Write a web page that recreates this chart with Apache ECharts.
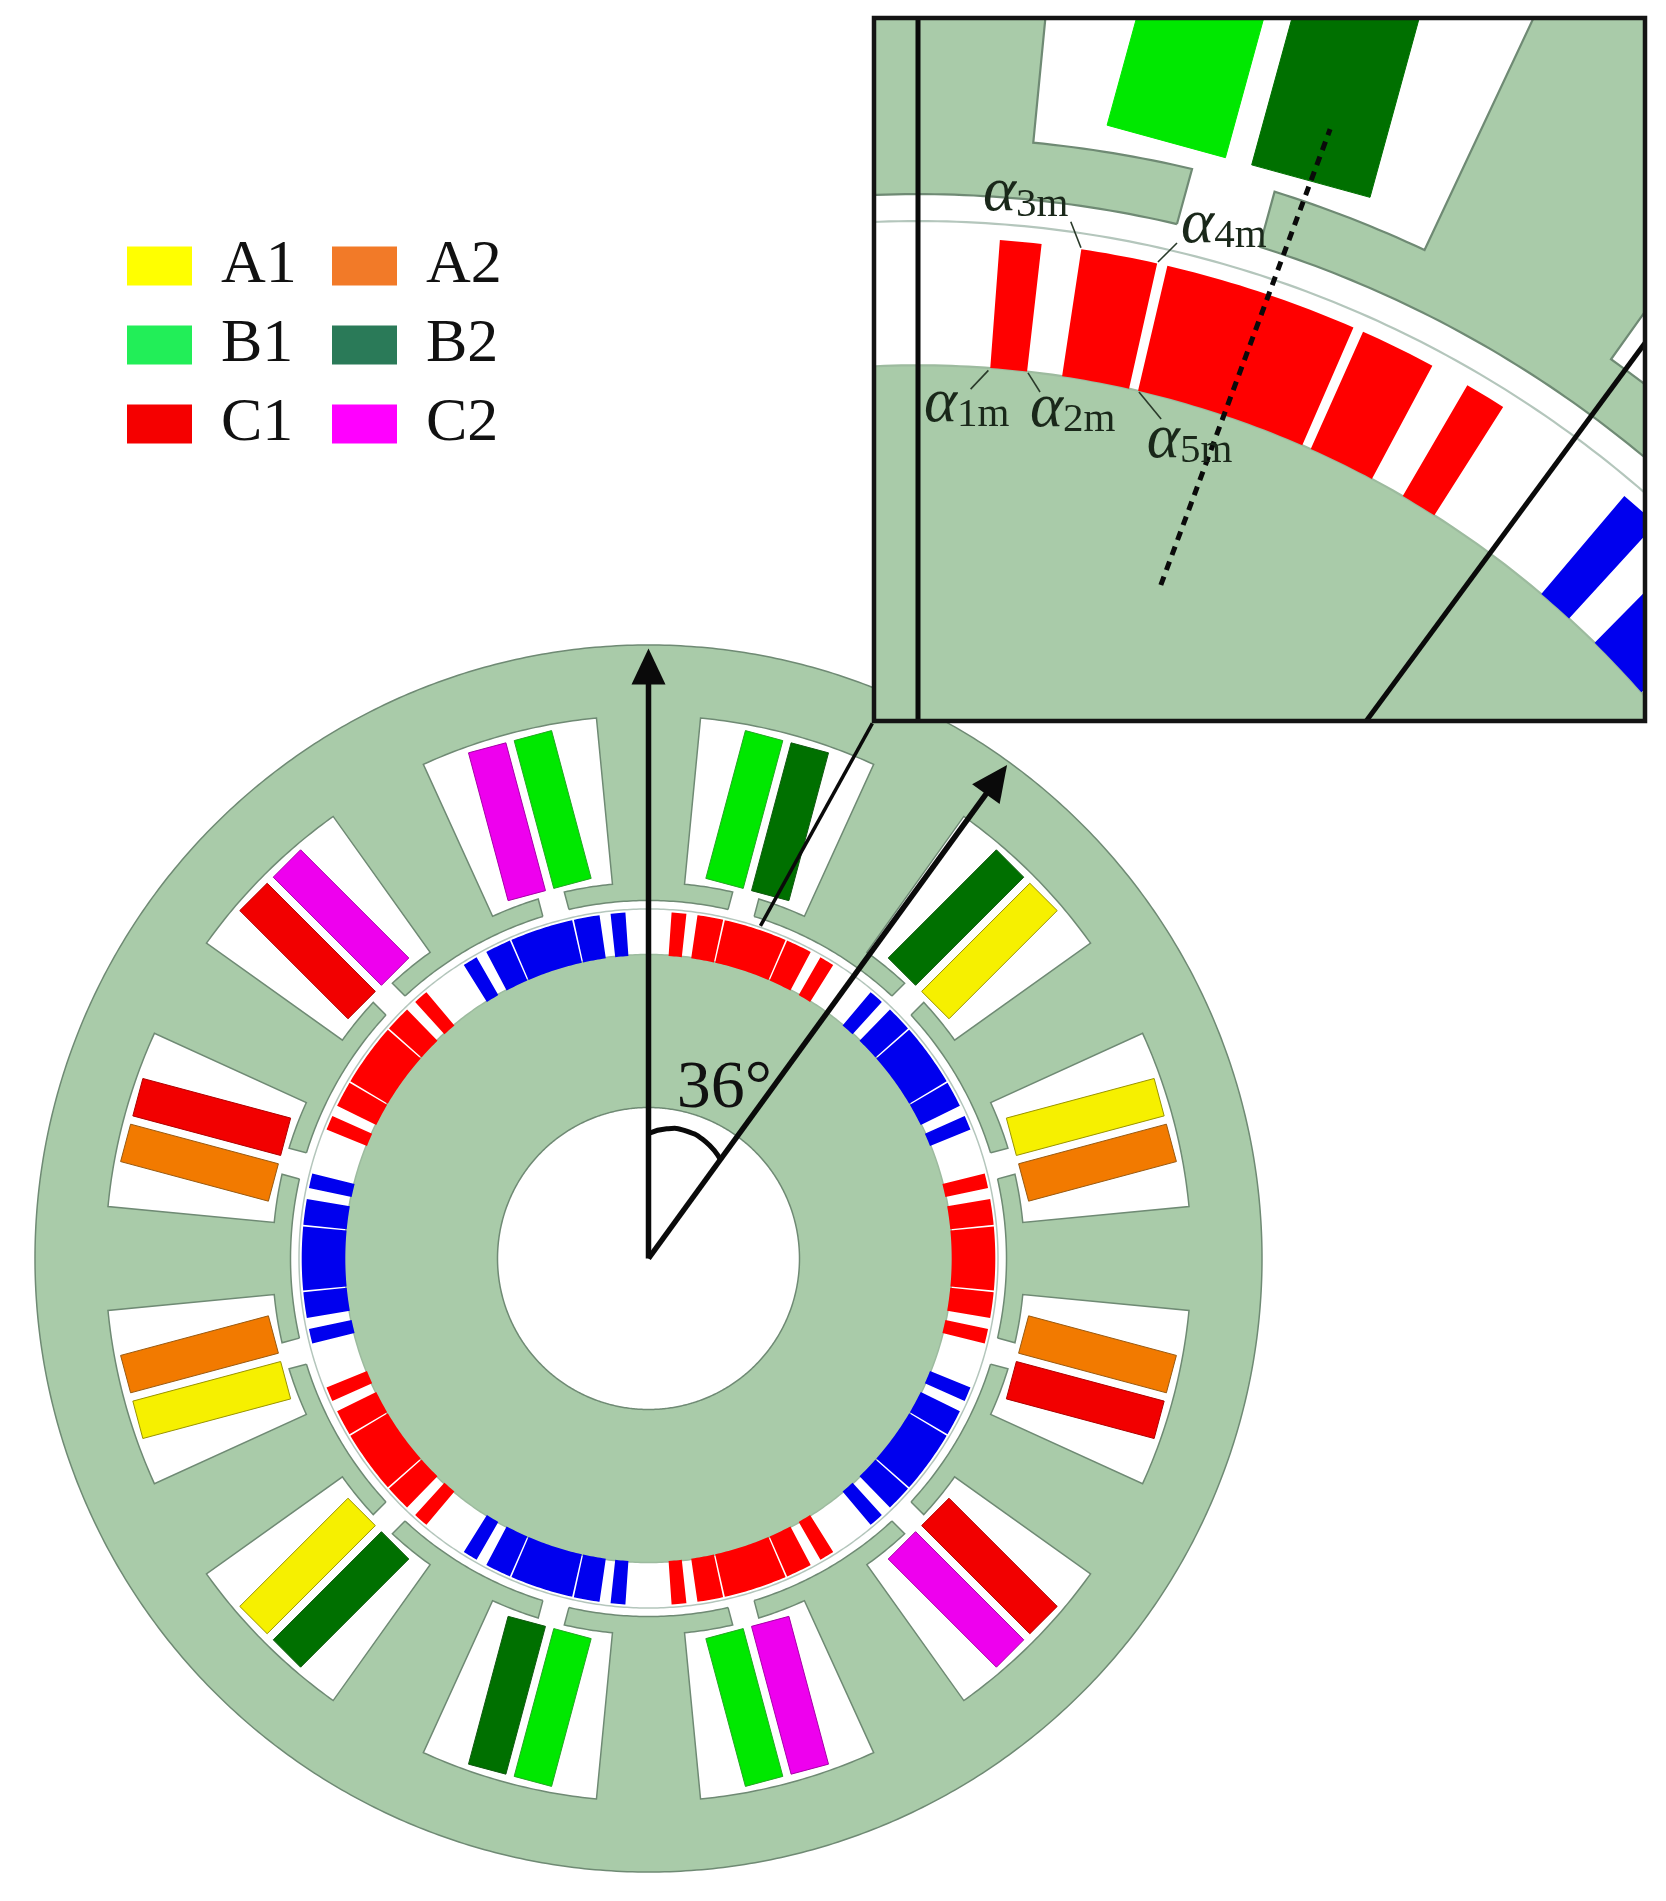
<!DOCTYPE html>
<html>
<head>
<meta charset="utf-8">
<title>motor</title>
<style>html,body{margin:0;background:#fff}#main{width:1666px;height:1901px}</style>
<script src="https://cdn.jsdelivr.net/npm/echarts@6/dist/echarts.min.js"></script>
</head>
<body>
<div id="main"></div>
<script>
// radii of the machine, in pixels of the main view
const statorRadius = 613.5, slotOuterRadius = 543, slotInnerRadius = 376, boreRadius = 358;
const sleeveRadius = 349.5, yokeRadius = 304, shaftRadius = 151;
const openingHalfWidth = 13.5;

// stator: 12 slots, each with two coil sides
const slotAngles = [15, 45, 75, 105, 135, 165, 195, 225, 255, 285, 315, 345];
const leadingPhase = ['B1', 'B2', 'A1', 'A2', 'C1', 'C2', 'B1', 'B2', 'A1', 'A2', 'C1', 'C2'];
const trailingPhase = ['B2', 'A1', 'A2', 'C1', 'C2', 'B1', 'B2', 'A1', 'A2', 'C1', 'C2', 'B1'];
const coilSpan = [4.3, 43], coilRadial = [382, 535];

// rotor: 10 poles, each made of 5 magnet segments
const poleAngles = [18, 54, 90, 126, 162, 198, 234, 270, 306, 342];
const poleColors = ['#ff0000', '#0000ee'];
const magnetEdges = [[-14.05, -11.85], [-9.75, -5.7], [-5.15, 5.15], [5.7, 9.75], [11.85, 14.05]];

const phaseNames = ['A1', 'A2', 'B1', 'B2', 'C1', 'C2'];
const phaseColors = { A1: '#f6f000', A2: '#f27a00', B1: '#00e800', B2: '#007000', C1: '#f20000', C2: '#ee00ee' };
const phaseEdges = { A1: '#9a9400', A2: '#9a5a10', B1: '#22a822', B2: '#105a10', C1: '#b00000', C2: '#a800a8' };
const legendColors = { A1: '#ffff00', A2: '#f27a28', B1: '#22ee58', B2: '#2a7a58', C1: '#f50000', C2: '#ff00ff' };

// annotations of the main view: [angle, radius]
const arrowAngles = [0, 36], arrowTip = 610;
const angleArc = [[0, 125], [8, 131], [16, 133], [26, 130], [36.5, 122]];
const angleLabel = { text: '36°', at: [24.1, 186] };
const zoomLeader = [[18.6, 351], [22.7, 580]];

// annotations of the enlarged view, in machine units
const insetAxisAngles = [0, 36.4];
const insetTurn = 0.35;
const poleAxis = [[76.6, 234.7], [130, 378.5]];
const alphaLabels = ['1m', '2m', '3m', '4m', '5m'];
const alphaAnchors = [[1.9, 291.7], [35.3, 290.1], [20.5, 358.1], [83, 348.2], [72.2, 280.3]];
const alphaLeaders = [
  [[22.2, 302.4], [16.6, 296.5]],
  [[34.7, 301.6], [38.5, 295.6]],
  [[48.2, 349.3], [51.4, 341.1]],
  [[81.7, 342.6], [75.7, 336.6]],
  [[69.7, 295.6], [76.7, 287.1]]
];

const W = 1666, H = 1901;
const cx = 648.5, cy = 1258.5;
const insetBox = { left: 874, top: 18, width: 771, height: 703 };
const insetZoom = 3.17, insetCx = 918, insetCy = 1329;
const insetX = [(insetBox.left - insetCx) / insetZoom, (insetBox.left + insetBox.width - insetCx) / insetZoom];
const insetY = [(insetCy - insetBox.top - insetBox.height) / insetZoom, (insetCy - insetBox.top) / insetZoom];

const serif = '"Liberation Serif", "Times New Roman", serif';
const steelFill = '#a9cba9', steelEdge = '#6f8a74';

function rad(d) { return d * Math.PI / 180; }
function polar(angle, r) { return [r * Math.sin(rad(angle)), r * Math.cos(rad(angle))]; }
function local(angle, u, v) {
  const a = rad(angle);
  return [u * Math.cos(a) + v * Math.sin(a), -u * Math.sin(a) + v * Math.cos(a)];
}
function arc(from, to, r) {
  const pts = [], n = Math.max(2, Math.ceil(Math.abs(to - from) * 2));
  for (let i = 0; i <= n; i++) pts.push(polar(from + (to - from) * i / n, r));
  return pts;
}
function toPx(api, pts) { return pts.map(p => api.coord(p)); }

function custom(view, extra) {
  return Object.assign({
    type: 'custom', xAxisIndex: view.index, yAxisIndex: view.index,
    clip: true, silent: true, animation: false, z: view.z, legendHoverLink: false
  }, extra);
}

function disc(view, radius, fill, stroke) {
  return custom(view, {
    data: [[radius]],
    renderItem: (p, api) => ({
      type: 'polygon',
      shape: { points: toPx(api, arc(0, 360, api.value(0))) },
      style: { fill: fill, stroke: stroke, lineWidth: view.edge }
    })
  });
}

function slotOutline(angle, half) {
  const tip = Math.asin(openingHalfWidth / slotInnerRadius) * 180 / Math.PI;
  const inner = Math.sqrt(slotInnerRadius * slotInnerRadius - openingHalfWidth * openingHalfWidth);
  let pts = [local(angle, -openingHalfWidth, boreRadius - 3), local(angle, -openingHalfWidth, inner)];
  pts = pts.concat(arc(angle - tip, angle - half, slotInnerRadius));
  pts = pts.concat(arc(angle - half, angle + half, slotOuterRadius));
  pts = pts.concat(arc(angle + half, angle + tip, slotInnerRadius));
  pts.push(local(angle, openingHalfWidth, inner), local(angle, openingHalfWidth, boreRadius - 3));
  return pts;
}

function coilRows(phase) {
  const rows = [];
  slotAngles.forEach((a, i) => {
    if (leadingPhase[i] === phase) rows.push([a, -1]);
    if (trailingPhase[i] === phase) rows.push([a, 1]);
  });
  return rows;
}

function motorSeries(view) {
  const turn = view.turn;
  const list = [];
  list.push(disc(view, statorRadius, steelFill, steelEdge));
  list.push(custom(view, {
    data: slotAngles.map(a => [a]),
    renderItem: (p, api) => ({
      type: 'polygon',
      shape: { points: toPx(api, slotOutline(api.value(0) + turn, view.slotHalf)) },
      style: { fill: '#fff', stroke: steelEdge, lineWidth: view.edge }
    })
  }));
  list.push(disc(view, boreRadius, '#fff', null));
  // tooth tips facing the air gap
  list.push(custom(view, {
    data: slotAngles.map(a => [a]),
    renderItem: (p, api) => {
      const tip = Math.asin(openingHalfWidth / boreRadius) * 180 / Math.PI;
      const a = api.value(0) + turn;
      return {
        type: 'polyline',
        shape: { points: toPx(api, arc(a + tip, a + 30 - tip, boreRadius)) },
        style: { fill: 'none', stroke: steelEdge, lineWidth: view.edge }
      };
    }
  }));
  list.push(disc(view, sleeveRadius, '#fff', '#b4c6bc'));
  list.push(disc(view, yokeRadius, steelFill, '#9dbb9f'));
  list.push(disc(view, shaftRadius, '#fff', steelEdge));

  // magnets
  const magnetRows = [];
  poleAngles.forEach((a, i) => magnetEdges.forEach(e => magnetRows.push([a, e[0], e[1], i % 2])));
  list.push(custom(view, {
    data: magnetRows,
    renderItem: (p, api) => {
      const a = api.value(0) + turn;
      const pts = arc(a + api.value(1), a + api.value(2), view.magnetOuter)
        .concat(arc(a + api.value(2), a + api.value(1), yokeRadius));
      const color = poleColors[api.value(3)];
      return {
        type: 'polygon',
        shape: { points: toPx(api, pts) },
        style: { fill: color, stroke: color, lineWidth: view.magnetEdge }
      };
    }
  }));

  // coils, one series per phase so the legend can name them
  phaseNames.forEach(ph => {
    list.push(custom(view, {
      name: ph,
      itemStyle: { color: phaseColors[ph] },
      data: coilRows(ph),
      renderItem: (p, api) => {
        const a = api.value(0) + turn, side = api.value(1);
        const pts = [
          local(a, side * coilSpan[0], coilRadial[0]), local(a, side * coilSpan[1], coilRadial[0]),
          local(a, side * coilSpan[1], coilRadial[1]), local(a, side * coilSpan[0], coilRadial[1])
        ];
        return {
          type: 'polygon',
          shape: { points: toPx(api, pts) },
          style: { fill: phaseColors[ph], stroke: view.index === 0 ? phaseEdges[ph] : phaseColors[ph], lineWidth: 1 }
        };
      }
    }));
  });
  return list;
}

function lineItem(api, pts, width, dash, smooth) {
  return {
    type: 'polyline',
    shape: { points: toPx(api, pts), smooth: smooth || 0 },
    style: { fill: 'none', stroke: '#0a0a0a', lineWidth: width, lineDash: dash || null, lineCap: 'butt' }
  };
}

const mainView = { index: 0, z: 2, turn: 0, edge: 1.5, magnetEdge: 1.6, magnetOuter: 346, slotHalf: 9.5 };
const insetView = { index: 1, z: 3, turn: insetTurn, edge: 2.2, magnetEdge: 0, magnetOuter: 344.5, slotHalf: 9.8 };

// annotations on the main view
const mainMarks = custom(mainView, {
  data: arrowAngles.map(a => [a]),
  renderItem: (p, api) => {
    const a = api.value(0);
    const shaftEnd = polar(a, arrowTip - 30);
    const head = [polar(a, arrowTip), local(a, -17, arrowTip - 36), local(a, 17, arrowTip - 36)];
    return {
      type: 'group',
      children: [
        lineItem(api, [[0, 0], shaftEnd], 5.5),
        { type: 'polygon', shape: { points: toPx(api, head) }, style: { fill: '#0a0a0a' } }
      ]
    };
  }
});
const mainArc = custom(mainView, {
  data: angleArc,
  renderItem: (p, api) => (p.dataIndex === 0
    ? lineItem(api, angleArc.map(q => polar(q[0], q[1])), 5, null, 0.5)
    : null)
});
const mainLeader = custom(mainView, {
  data: [[0]],
  renderItem: (p, api) => lineItem(api, zoomLeader.map(q => polar(q[0], q[1])), 3.5)
});
const mainLabel = custom(mainView, {
  data: [angleLabel.at],
  renderItem: (p, api) => {
    const xy = api.coord(polar(api.value(0), api.value(1)));
    return {
      type: 'text',
      style: {
        x: xy[0], y: xy[1], text: angleLabel.text, fill: '#111',
        fontSize: 68, fontFamily: serif, align: 'center', verticalAlign: 'middle'
      }
    };
  }
});

// annotations on the enlarged view
const insetLines = custom(insetView, {
  data: insetAxisAngles.map(a => [a]),
  renderItem: (p, api) => lineItem(api, [[0, 0], polar(api.value(0), 700)], 5)
});
const insetPoleAxis = custom(insetView, {
  data: [[0]],
  renderItem: (p, api) => lineItem(api, poleAxis, 5, [9, 7])
});
const insetLeaders = custom(insetView, {
  data: alphaLeaders.map((q, i) => [i]),
  renderItem: (p, api) => {
    const it = lineItem(api, alphaLeaders[api.value(0)], 1.6);
    it.style.stroke = '#2a3a2a';
    return it;
  }
});
const insetLabels = custom(insetView, {
  data: alphaLabels.map((s, i) => [i]),
  renderItem: (p, api) => {
    const i = api.value(0);
    const xy = api.coord(alphaAnchors[i]);
    return {
      type: 'text',
      style: {
        x: xy[0], y: xy[1], text: '{a|α}{s|' + alphaLabels[i] + '}',
        align: 'left', verticalAlign: 'middle', fill: '#1a281a',
        rich: {
          a: { fontSize: 63, fontFamily: serif, fontStyle: 'italic', fill: '#1a281a' },
          s: { fontSize: 41, fontFamily: serif, fill: '#1a281a', padding: [22, 0, 0, 0] }
        }
      }
    };
  }
});
const insetFrame = custom(insetView, {
  z: 4, clip: false,
  data: [[0]],
  renderItem: (p, api) => {
    const c = [
      [insetX[0], insetY[1]], [insetX[1], insetY[1]],
      [insetX[1], insetY[0]], [insetX[0], insetY[0]], [insetX[0], insetY[1]]
    ];
    const it = lineItem(api, c, 4.5);
    it.style.stroke = '#141414';
    it.style.lineCap = 'square';
    return it;
  }
});

function legendFor(names, left) {
  return {
    left: left, top: 235, orient: 'vertical', padding: 0,
    itemWidth: 65, itemHeight: 39, itemGap: 17, selectedMode: false,
    icon: 'rect',
    textStyle: { fontFamily: serif, fontSize: 62, color: '#111', padding: [0, 0, 0, 24] },
    data: names.map(n => ({ name: n, itemStyle: { color: legendColors[n], borderWidth: 0 } }))
  };
}

const chart = echarts.init(document.getElementById('main'), null, { width: W, height: H });
chart.setOption({
  animation: false,
  backgroundColor: '#fff',
  tooltip: { show: false },
  legend: [legendFor(['A1', 'B1', 'C1'], 127), legendFor(['A2', 'B2', 'C2'], 332)],
  grid: [
    { left: 0, top: 0, width: W, height: H },
    { left: insetBox.left, top: insetBox.top, width: insetBox.width, height: insetBox.height }
  ],
  xAxis: [
    { type: 'value', gridIndex: 0, min: -cx, max: W - cx, show: false },
    { type: 'value', gridIndex: 1, min: insetX[0], max: insetX[1], show: false }
  ],
  yAxis: [
    { type: 'value', gridIndex: 0, min: cy - H, max: cy, show: false },
    { type: 'value', gridIndex: 1, min: insetY[0], max: insetY[1], show: false }
  ],
  series: motorSeries(mainView)
    .concat([mainMarks, mainArc, mainLeader, mainLabel])
    .concat(motorSeries(insetView))
    .concat([insetLines, insetPoleAxis, insetLeaders, insetLabels, insetFrame])
});
</script>
</body>
</html>
